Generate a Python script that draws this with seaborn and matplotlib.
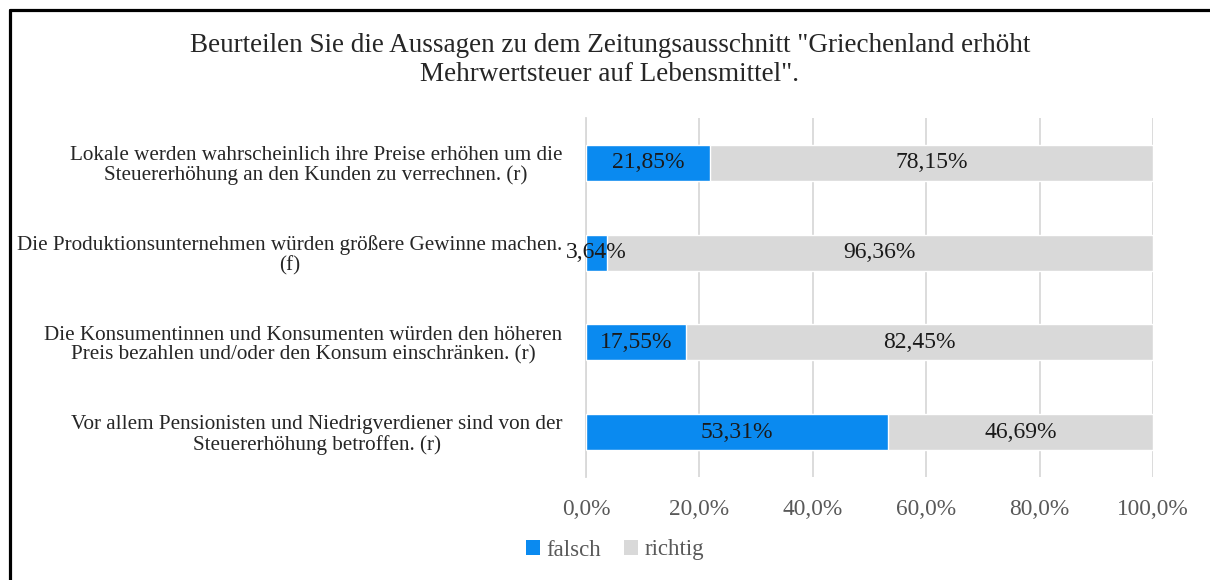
import numpy as np
import pandas as pd
import matplotlib.pyplot as plt
import seaborn as sns
from matplotlib.lines import Line2D
from matplotlib.patches import Patch
from matplotlib.ticker import FixedLocator

# data
statements = [
    "Lokale werden wahrscheinlich ihre Preise erhöhen um die\nSteuererhöhung an den Kunden zu verrechnen. (r)",
    "Die Produktionsunternehmen würden größere Gewinne machen.\n(f)",
    "Die Konsumentinnen und Konsumenten würden den höheren\nPreis bezahlen und/oder den Konsum einschränken. (r)",
    "Vor allem Pensionisten und Niedrigverdiener sind von der\nSteuererhöhung betroffen. (r)",
]
falsch = [21.85, 3.64, 17.55, 53.31]
richtig = [78.15, 96.36, 82.45, 46.69]
x_ticks = [0, 20, 40, 60, 80, 100]

BLUE = "#0A8AF0"
GRAY = "#D9D9D9"
TEXT_GRAY = "#595959"

sns.set_style("white")
plt.rcParams["font.family"] = ["Liberation Serif", "DejaVu Serif"]

df = pd.DataFrame({"statement": statements, "falsch": falsch, "richtig": richtig})
df["total"] = df["falsch"] + df["richtig"]

fig = plt.figure(figsize=(12.1, 5.8), dpi=100)
ax = fig.add_axes([586 / 1210, 1 - 477 / 580, (1153 - 586) / 1210, (477 - 118) / 580])

# stacked bars: full bar in gray, falsch drawn on top in blue
sns.barplot(data=df, x="total", y="statement", color=GRAY, width=0.4,
            saturation=1, ax=ax, orient="h", zorder=2)
sns.barplot(data=df, x="falsch", y="statement", color=BLUE, width=0.4,
            saturation=1, ax=ax, orient="h", zorder=3)

# value labels centred in each segment
for i, row in df.iterrows():
    ax.text(row["falsch"] / 2, i, f"{row['falsch']:.2f}%".replace(".", ","),
            ha="center", va="center", fontsize=17, color="#1a1a1a", zorder=4)
    ax.text(row["falsch"] + row["richtig"] / 2, i,
            f"{row['richtig']:.2f}%".replace(".", ","),
            ha="center", va="center", fontsize=17, color="#1a1a1a", zorder=4)

ax.set_xlim(0, 100)
ax.set_ylim(len(statements) - 0.5, -0.5)
ax.set_xticks(x_ticks)
ax.set_xticklabels([f"{t:.1f}%".replace(".", ",") for t in x_ticks])
ax.grid(axis="x", color=GRAY, linewidth=1.3, zorder=0)
ax.set_xlabel("")
ax.set_ylabel("")

for side in ["top", "right", "bottom"]:
    ax.spines[side].set_visible(False)
ax.spines["left"].set_color(GRAY)
ax.spines["left"].set_linewidth(1.3)

ax.tick_params(axis="x", length=0, pad=16, labelsize=16.8, labelcolor=TEXT_GRAY)
ax.tick_params(axis="y", which="major", length=0, pad=17, labelsize=15.2)
ax.yaxis.set_minor_locator(FixedLocator(np.arange(-0.5, len(statements), 1.0)))
ax.tick_params(axis="y", which="minor", length=5, color=GRAY, width=1.3)
for lbl in ax.get_yticklabels():
    lbl.set_multialignment("center")
    lbl.set_linespacing(1.05)

fig.text(0.504, 1 - 60 / 580,
         "Beurteilen Sie die Aussagen zu dem Zeitungsausschnitt \"Griechenland erhöht\n"
         "Mehrwertsteuer auf Lebensmittel\".",
         ha="center", va="center", fontsize=19.5, linespacing=1.22)

handles = [Patch(facecolor=BLUE, edgecolor="none"), Patch(facecolor=GRAY, edgecolor="none")]
fig.legend(handles, ["falsch", "richtig"], loc="center", ncol=2, frameon=False,
           bbox_to_anchor=(615 / 1210, 1 - 550 / 580), fontsize=16.5,
           handlelength=0.6, handleheight=0.6, handletextpad=0.3, columnspacing=1.0,
           labelcolor=TEXT_GRAY)

# frame lines (left and top) like the screenshot border
x0 = 9.5 / 1210
y0 = 1 - 9.5 / 580
fig.add_artist(Line2D([x0, x0], [0, y0], transform=fig.transFigure, color="black", linewidth=2.3))
fig.add_artist(Line2D([x0, 1], [y0, y0], transform=fig.transFigure, color="black", linewidth=2.3))

fig.savefig("out.png", dpi=100)
